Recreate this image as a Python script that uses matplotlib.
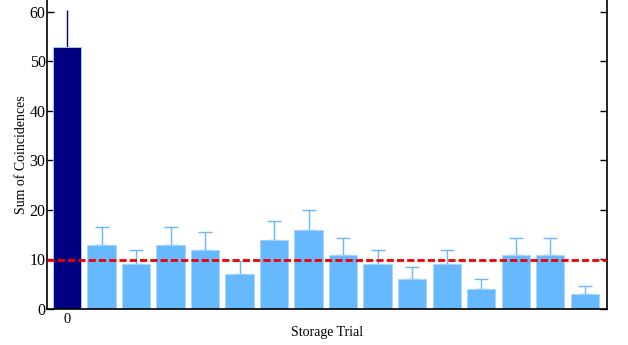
import numpy as np
import matplotlib.pyplot as plt

# -- Data --
trials = np.arange(16)
counts = np.array([53, 13, 9, 13, 12, 7, 14, 16, 11, 9, 6, 9, 4, 11, 11, 3])
errors = np.sqrt(counts)  # poisson errors
tick_labels = ['0']

plt.rcParams['font.family'] = ['Liberation Serif', 'DejaVu Serif']

def main():
    fig = plt.figure(figsize=(6.28, 3.45), dpi=100)
    ax = fig.add_axes([0.0748, 0.1043, 0.892, 0.8957])

    colors = ['#000080'] + ['#66b8ff'] * (len(counts) - 1)
    ax.bar(trials, counts, width=0.82, color=colors, edgecolor='#a8d4ff', linewidth=0.6, zorder=2)
    for i in range(len(counts)):
        ecol = '#000080' if i == 0 else '#66b8ff'
        cap = 0 if i == 0 else 5
        ax.errorbar(trials[i], counts[i], yerr=[[0], [errors[i]]], fmt='none',
                    ecolor=ecol, elinewidth=1, capsize=cap, capthick=1, zorder=1)

    # mean of the storage trials
    mean_storage = np.mean(counts[1:])
    ax.axhline(mean_storage, color='#ee0000', ls=(0, (2.6, 1.1)), lw=2, zorder=3)

    ax.set_xlim(-0.58, 15.65)
    ax.set_ylim(0, 62.4)
    ax.set_xticks([0])
    ax.set_xticklabels(tick_labels)
    ax.set_yticks(np.arange(0, 61, 10))
    ax.tick_params(axis='x', length=0, labelsize=10.5, pad=3)
    ax.tick_params(axis='y', direction='in', length=5, width=1, labelsize=11.5,
                   right=True, pad=1)
    ax.spines['top'].set_visible(False)
    for s in ['left', 'right', 'bottom']:
        ax.spines[s].set_linewidth(1.2)

    ax.set_xlabel('Storage Trial', fontsize=10, labelpad=0)
    ax.set_ylabel('Sum of Coincidences', fontsize=10, labelpad=1)

    fig.savefig('out.png', dpi=100)

if __name__ == "__main__":
    main()
